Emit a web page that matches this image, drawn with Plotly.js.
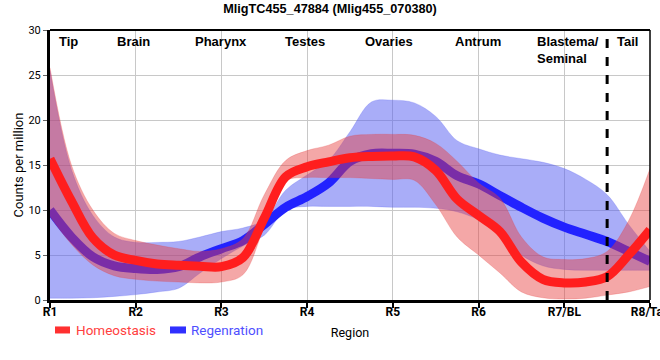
<!DOCTYPE html>
<html><head><meta charset="utf-8">
<script src="https://cdn.plot.ly/plotly-3.0.1.min.js"></script>
<style>html,body{margin:0;padding:0;background:#fff}#chart{width:660px;height:360px}</style>
</head><body><div id="chart"></div>
<script>
// positions along body (1 = R1 ... 8 = R8/Tail)
const pos = [1,1.25,1.5,1.75,2,2.25,2.5,2.75,3,3.25,3.5,3.75,4,4.25,4.5,4.75,5,5.25,5.5,5.75,6,6.25,6.5,6.75,7,7.25,7.5,7.75,8];
const tickVals = [1,2,3,4,5,6,7,8];
const tickLabels = ['R1','R2','R3','R4','R5','R6','R7/BL','R8/Tail'];
const regionNames = ['Tip','Brain','Pharynx','Testes','Ovaries','Antrum','Blastema/<br>Seminal','Tail'];
const regionPos = [1.22,1.97,2.99,3.97,4.95,5.99,6.654,7.74];

// Homeostasis
const homMean  = [15.7,11.0,6.9,5.0,4.4,4.0,3.85,3.75,3.7,4.7,9.1,13.7,14.8,15.35,15.8,15.95,16.0,15.9,14.4,11.2,9.4,7.6,4.2,2.3,1.9,2.0,2.6,5.0,7.8];
const homUpper = [25.8,15.0,10.0,7.4,6.6,6.1,5.7,5.4,5.7,6.8,11.7,15.5,16.6,17.2,18.2,18.4,18.4,18.3,17.4,15.4,13.0,11.3,7.0,4.8,4.5,4.6,5.4,8.8,14.6];
const homLower = [9.3,6.2,3.9,2.7,2.3,2.1,2.0,1.9,2.0,2.8,8.1,13.2,13.6,13.6,13.6,13.5,13.4,13.3,10.6,7.0,5.0,3.0,0.9,0.25,0.1,0.2,0.55,0.9,1.5];
// Regeneration
const regMean  = [10.0,7.0,4.8,3.8,3.5,3.4,3.7,4.8,5.7,6.6,8.4,10.3,11.5,13.0,15.4,16.25,16.3,16.2,15.4,13.8,12.9,11.6,10.3,9.1,8.1,7.3,6.5,5.4,4.3];
const regUpper = [25.5,14.5,9.4,7.0,6.4,6.4,6.5,7.0,7.6,8.0,8.9,12.2,13.9,15.5,18.7,22.0,22.2,21.9,20.4,17.7,16.8,16.1,15.7,15.3,14.6,13.4,11.7,8.4,5.4];
const regLower = [0.2,0.2,0.25,0.4,0.6,0.9,1.3,3.0,4.6,6.0,7.2,10.0,10.4,10.4,10.4,10.4,10.3,10.3,10.2,9.8,8.9,7.3,5.0,3.8,3.4,3.3,3.3,3.3,3.3];

const blueFill = 'rgba(84,92,242,0.5)';
const redFill = 'rgba(230,60,60,0.45)';
const blueLine = '#2222ff';
const redLine = '#ff1e1e';

const sp = {shape:'spline', smoothing:1};
const traces = [
  {x:pos, y:regLower, mode:'lines', line:Object.assign({width:0.5, color:blueFill}, sp), showlegend:false, hoverinfo:'skip'},
  {x:pos, y:regUpper, mode:'lines', fill:'tonexty', fillcolor:blueFill, line:Object.assign({width:0.5, color:blueFill}, sp), showlegend:false, hoverinfo:'skip'},
  {x:pos, y:regMean, mode:'lines', name:'Regenration', line:Object.assign({width:9, color:blueLine}, sp), showlegend:false},
  {x:pos, y:homLower, mode:'lines', line:Object.assign({width:0.5, color:redFill}, sp), showlegend:false, hoverinfo:'skip'},
  {x:pos, y:homUpper, mode:'lines', fill:'tonexty', fillcolor:redFill, line:Object.assign({width:0.5, color:redFill}, sp), showlegend:false, hoverinfo:'skip'},
  {x:pos, y:homMean, mode:'lines', name:'Homeostasis', line:Object.assign({width:9, color:redLine}, sp), showlegend:false}
];

const annotations = regionNames.map((t,i)=>({
  x: regionPos[i], xref:'x', y:0.992, yref:'paper', yanchor:'top',
  xanchor: i===6 ? 'left' : 'center', align:'left',
  text:t, showarrow:false,
  font:{family:'Liberation Sans, Arial', size:13, color:'#000', weight:'bold'}
}));
annotations.push({x:0.04, xref:'paper', y:-0.111, yref:'paper', xanchor:'left', yanchor:'middle', text:'Homeostasis', showarrow:false, font:{family:'Roboto', size:13.5, color:'#ff4040'}});
annotations.push({x:0.2317, xref:'paper', y:-0.111, yref:'paper', xanchor:'left', yanchor:'middle', text:'Regenration', showarrow:false, font:{family:'Roboto', size:13.5, color:'#4f4fff'}});

const shapes = [
  {type:'line', xref:'x', yref:'y', x0:7.5, x1:7.5, y0:0, y1:30, line:{color:'#000', width:3, dash:'dash'}},
  {type:'line', xref:'paper', yref:'paper', x0:0, x1:1, y0:1, y1:1, line:{color:'#000', width:2}},
  {type:'line', xref:'paper', yref:'paper', x0:1, x1:1, y0:0, y1:1, line:{color:'#000', width:1.5}},
  {type:'rect', xref:'paper', yref:'paper', x0:0.0083, x1:0.0333, y0:-0.098, y1:-0.124, fillcolor:'#ff3030', line:{width:0}},
  {type:'rect', xref:'paper', yref:'paper', x0:0.2, x1:0.2267, y0:-0.098, y1:-0.124, fillcolor:'#3030ff', line:{width:0}}
];

const layout = {
  width:660, height:360,
  margin:{l:50, r:10, t:30, b:60},
  paper_bgcolor:'#fff', plot_bgcolor:'#fff',
  title:{text:'MligTC455_47884 (Mlig455_070380)', x:0.5, xref:'container', y:0.975, yref:'container', yanchor:'middle',
         font:{family:'Liberation Sans, Arial', size:12.7, color:'#000', weight:'bold'}},
  xaxis:{range:[1,8], tickvals:tickVals, ticktext:tickLabels, showgrid:true, gridcolor:'#c8c8c8', gridwidth:1,
         zeroline:false, showline:true, linecolor:'#000', linewidth:3, ticks:'outside', ticklen:5, tickwidth:2, tickcolor:'#000',
         ticklabeloverflow:'allow', ticklabelstandoff:-6,
         tickfont:{family:'Roboto', size:12, color:'#000', weight:'bold'},
         title:{text:'Region', standoff:10, font:{family:'Roboto', size:12.5, color:'#000'}}},
  yaxis:{range:[0,30], tickvals:[0,5,10,15,20,25,30], showgrid:true, gridcolor:'#c8c8c8', gridwidth:1,
         zeroline:false, showline:true, linecolor:'#000', linewidth:3, ticks:'outside', ticklen:4, tickwidth:1, tickcolor:'#666',
         tickfont:{family:'Roboto', size:11, color:'#000'},
         title:{text:'Counts per million', standoff:2, font:{family:'Roboto', size:13, color:'#000'}}},
  showlegend:false,
  annotations:annotations,
  shapes:shapes
};
Plotly.newPlot('chart', traces, layout, {displayModeBar:false, staticPlot:true});
</script></body></html>
